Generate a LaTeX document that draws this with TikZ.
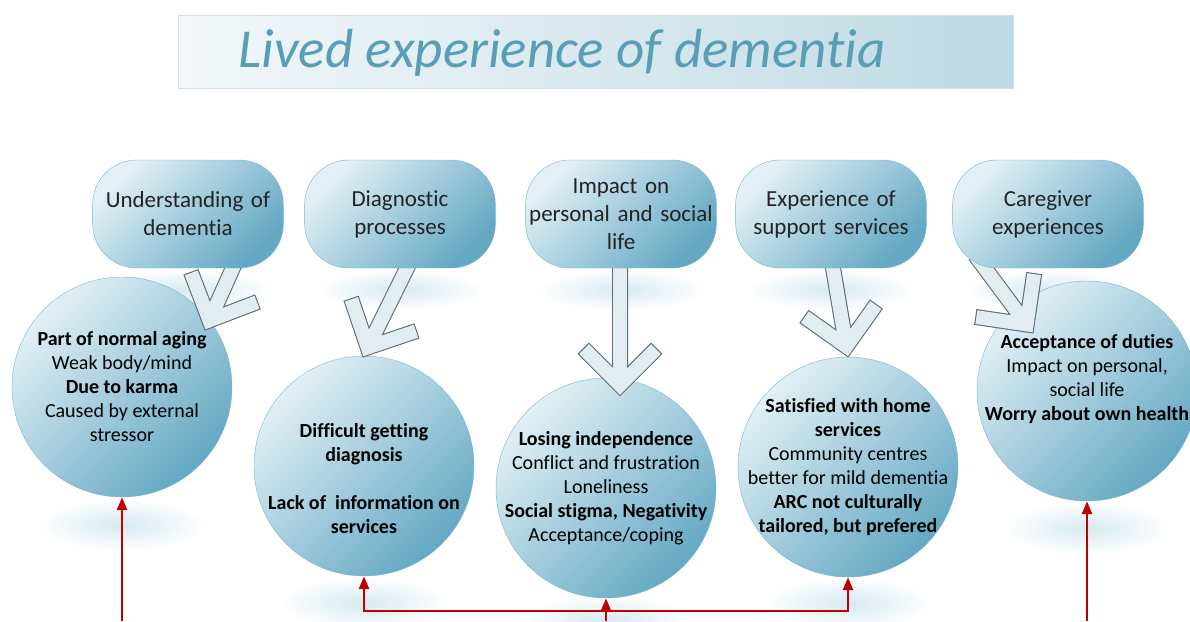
\documentclass[tikz,border=0pt]{standalone}
\usepackage{fontspec}
\setmainfont{Carlito}[RawFeature={-liga;-clig;-calt;-dlig}]
\usetikzlibrary{positioning,calc,arrows.meta}

\definecolor{titleblue}{RGB}{88,158,182}
\definecolor{titlelight}{RGB}{243,247,249}
\definecolor{titledark}{RGB}{190,218,228}
\definecolor{titleedge}{RGB}{206,226,234}
\definecolor{shapelight}{RGB}{226,240,246}
\definecolor{shapedark}{RGB}{100,168,195}
\definecolor{shapeedge}{RGB}{118,180,204}
\definecolor{glow}{RGB}{214,233,241}
\definecolor{arrowedge}{RGB}{92,112,118}
\definecolor{arrowfill}{RGB}{226,237,242}
\definecolor{linkred}{RGB}{192,0,0}
\definecolor{themetext}{RGB}{35,35,35}

\tikzstyle{titlebox}  = [rectangle, draw=titleedge, left color=titlelight, right color=titledark, minimum width=835pt, minimum height=73pt]
\tikzstyle{titletext} = [text=titleblue, font=\fontsize{55}{66}\selectfont\itshape, anchor=base]
\tikzstyle{theme}     = [rectangle, rounded corners=44pt, draw=shapeedge, top color=shapelight, bottom color=shapedark, shading angle=45, minimum width=188pt, minimum height=108pt, text width=184pt, align=center, text=themetext, font=\fontsize{23}{28}\selectfont]
\tikzstyle{bubble}    = [circle, draw=shapeedge, top color=shapelight, bottom color=shapedark, shading angle=45, minimum size=220pt, inner sep=0pt]
\tikzstyle{findings}  = [align=center, font=\fontsize{20}{24}\selectfont]
\tikzstyle{rim}       = [draw=arrowedge, line width=16pt]
\tikzstyle{core}      = [draw=arrowfill, line width=13.8pt]
\tikzstyle{link}      = [draw=linkred, line width=2.6pt, -{Triangle[length=13pt,width=10pt]}]

% open block arrow: #1 start of shaft, #2 tip
\newcommand{\openarrow}[2]{%
  \path[rim] (#1) -- (#2) ($(#2)!52pt!45:(#1)$) -- (#2) -- ($(#2)!52pt!-45:(#1)$);
  \path[core] ($(#1)!1.1pt!(#2)$) -- (#2) ($(#2)!50.9pt!45:(#1)$) -- (#2) -- ($(#2)!50.9pt!-45:(#1)$);
}

\begin{document}
\begin{tikzpicture}[x=1pt, y=-1pt]
	\useasboundingbox (0,0) rectangle (1190,621);

	% title node
	\node [titlebox] (T0) at (595.5,51.5) {};
	\node [titletext] (T1) at (562,67) {Lived experience of dementia};

	% faint reflections
	\foreach \x in {188,400,621,831,1048}
		\shade [inner color=glow, outer color=white] (\x,290) ellipse (85 and 20);
	\foreach \x/\y in {122/525,364/603,606/621,848/603,1087/528}
		\shade [inner color=glow, outer color=white] (\x,\y) ellipse (85 and 26);

	% place circles
	\node [bubble] (C1) at (122,387)  {};
	\node [bubble] (C2) at (364,466)  {};
	\node [bubble] (C3) at (606,488)  {};
	\node [bubble] (C4) at (848,467)  {};
	\node [bubble] (C5) at (1087,391) {};

	\node [findings] at (C1) {\textbf{Part of normal aging}\\Weak body/mind\\\textbf{Due to karma}\\Caused by external\\stressor};
	\node [findings, yshift=-13pt] at (C2) {\textbf{Difficult getting}\\\textbf{diagnosis}\\[24pt]\textbf{Lack of\ \ information on}\\\textbf{services}};
	\node [findings] at (C3) {\textbf{Losing independence}\\Conflict and frustration\\Loneliness\\\textbf{Social stigma, Negativity}\\Acceptance/coping};
	\node [findings] at (C4) {\textbf{Satisfied with home}\\\textbf{services}\\Community centres\\better for mild dementia\\\textbf{ARC not culturally}\\\textbf{tailored, but prefered}};
	\node [findings, yshift=12pt] at (C5) {\textbf{Acceptance of duties}\\Impact on personal,\\social life\\\textbf{Worry about own health}};

	% open arrows
	\openarrow{240,252}{209.4,320.4}
	\openarrow{410,262}{367.7,347.5}
	\openarrow{620,262}{620,385}
	\openarrow{832,262}{846.3,346.5}
	\openarrow{975,255}{1026.7,324.5}

	% place themes
	\node [theme] (B1) at (188,214) {Understanding of\\dementia};
	\node [theme, right of=B1, node distance=212pt] (B2) {Diagnostic\\processes};
	\node [theme, right of=B2, node distance=221pt] (B3) {Impact on\\personal and social\\life};
	\node [theme, right of=B3, node distance=210pt] (B4) {Experience of\\support services};
	\node [theme, right of=B4, node distance=217pt] (B5) {Caregiver\\experiences};

	% draw links
	\coordinate (F1) at (122,621);
	\coordinate (F5) at (1087,621);
	\coordinate (hub) at (606,621);
	\coordinate (split) at (606,611);
	\path [link] (F1) -- (C1);
	\path [link] (F5) -- (C5);
	\path [link] (hub) -- (C3);
	\path [link] (split) -| (C2);
	\path [link] (split) -| (C4);
\end{tikzpicture}
\end{document}
